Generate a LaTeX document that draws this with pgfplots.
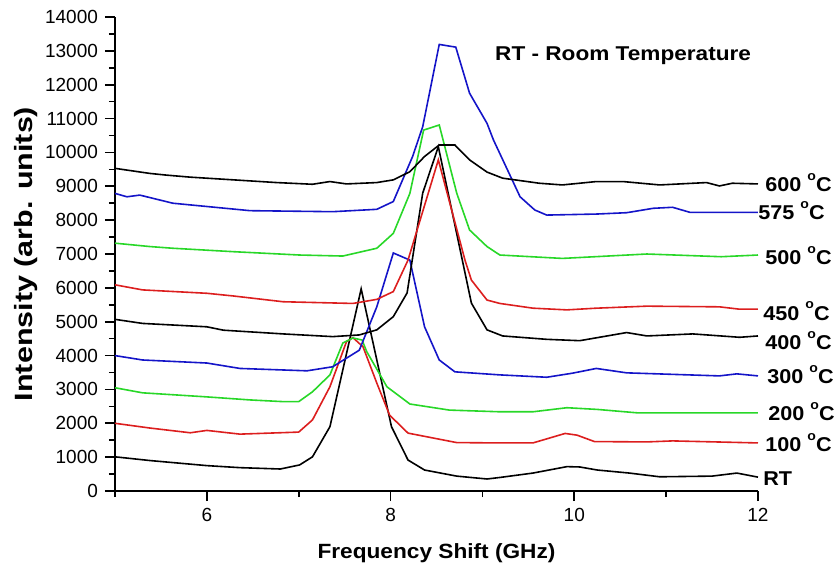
\documentclass[border=0pt]{standalone}
\usepackage{fontspec}
\setmainfont{Liberation Sans}
\usepackage{graphicx}
\usepackage{pgfplots}
\pgfplotsset{compat=1.18}
\definecolor{cred}{RGB}{220,30,30}
\definecolor{cgreen}{RGB}{40,215,40}
\definecolor{cblue}{RGB}{20,20,200}
\tikzset{lab/.style={font=\fontsize{10}{12}\selectfont\bfseries, anchor=base west, inner sep=0pt, yshift=-3.75pt}}
\newcommand{\wide}[2][1.1]{\scalebox{#1}[1]{#2}}
\newcommand{\dg}{\hspace{0.28em}\raisebox{1.05ex}{\fontsize{6.5}{6.5}\selectfont o}}
\begin{document}
\begin{tikzpicture}
\begin{axis}[
  at={(0,0)}, anchor=south west,
  scale only axis, width=321.5pt, height=237pt,
  xmin=5, xmax=12, ymin=0, ymax=14000,
  axis lines=left, axis line style={-, line width=0.8pt},
  xtick={6,8,10,12}, minor xtick={5,7,9,11},
  ytick={0,1000,...,14000}, minor ytick={500,1500,...,13500},
  tick align=outside, major tick length=5pt, minor tick length=3pt,
  tick style={line width=0.8pt, black},
  ticklabel style={font=\fontsize{9.5}{11}\selectfont},
  /pgf/number format/assume math mode=true,
  scaled y ticks=false,
  y tick label style={/pgf/number format/.cd, 1000 sep={}},
  xlabel={\wide[1.1]{Frequency Shift (GHz)}},
  ylabel={\wide[1.22]{Intensity (arb. units)}},
  xlabel style={font=\fontsize{10.3}{12}\selectfont\bfseries, at={(axis description cs:0.5,-0.131)}, anchor=center},
  ylabel style={font=\fontsize{12.5}{14}\selectfont\bfseries, at={(axis description cs:-0.138,0.5)}, anchor=center},
  clip=false,
  every axis plot/.append style={line width=0.8pt, mark=none},
]
% RT
\addplot[black] coordinates {(5.0,1010)(5.38,900)(6.0,750)(6.36,690)(6.8,650)(7.01,770)(7.15,1010)(7.34,1900)(7.68,5970)(8.01,1900)(8.19,915)(8.37,620)(8.72,440)(9.05,355)(9.19,400)(9.55,530)(9.92,720)(10.06,710)(10.25,620)(10.6,530)(10.93,420)(11.5,440)(11.77,530)(12,410)};
% 100 C
\addplot[cred] coordinates {(5.0,2000)(5.38,1860)(5.82,1720)(6.0,1790)(6.36,1680)(7.0,1740)(7.15,2100)(7.34,3080)(7.52,4410)(7.59,4530)(7.7,4260)(7.85,3190)(7.99,2240)(8.19,1710)(8.72,1430)(9.19,1420)(9.55,1420)(9.9,1700)(10.03,1650)(10.22,1460)(10.79,1450)(11.07,1480)(12,1420)};
% 200 C
\addplot[cgreen] coordinates {(5.0,3050)(5.3,2900)(6.0,2780)(6.47,2690)(6.83,2640)(7.0,2640)(7.15,2930)(7.34,3430)(7.48,4370)(7.59,4520)(7.69,4460)(7.74,4120)(7.96,3080)(8.21,2570)(8.64,2390)(9.19,2340)(9.55,2340)(9.92,2460)(10.25,2410)(10.68,2310)(12,2310)};
% 300 C
\addplot[cblue] coordinates {(5.0,4000)(5.3,3870)(6.0,3780)(6.36,3620)(7.09,3550)(7.37,3670)(7.66,4160)(7.85,5440)(8.03,7030)(8.21,6820)(8.37,4850)(8.53,3870)(8.7,3520)(9.19,3430)(9.7,3360)(9.98,3480)(10.24,3620)(10.57,3490)(11.58,3400)(11.77,3460)(12,3400)};
% 400 C
\addplot[black] coordinates {(5.0,5070)(5.3,4950)(6.0,4850)(6.18,4750)(6.83,4640)(7.37,4560)(7.66,4610)(7.85,4760)(8.03,5150)(8.18,5850)(8.35,8800)(8.52,10170)(8.88,5550)(9.05,4760)(9.22,4580)(9.7,4480)(10.06,4440)(10.57,4680)(10.79,4580)(11.29,4640)(11.8,4540)(12,4580)};
% 450 C
\addplot[cred] coordinates {(5.0,6090)(5.3,5940)(6.0,5840)(6.29,5760)(6.83,5590)(7.59,5540)(7.85,5660)(8.03,5890)(8.19,6820)(8.52,9780)(8.81,6820)(8.88,6230)(9.05,5640)(9.19,5540)(9.55,5400)(9.92,5350)(10.24,5400)(10.79,5460)(11.58,5440)(11.8,5370)(12,5370)};
% 500 C
\addplot[cgreen] coordinates {(5.0,7320)(5.38,7220)(5.63,7170)(6.28,7070)(7.01,6970)(7.48,6940)(7.85,7170)(8.03,7610)(8.21,8790)(8.36,10660)(8.53,10810)(8.72,8800)(8.86,7710)(9.05,7220)(9.19,6970)(9.87,6870)(10.79,7000)(11.6,6920)(12,6970)};
% 575 C
\addplot[cblue] coordinates {(5.0,8790)(5.13,8690)(5.27,8740)(5.63,8500)(6.47,8280)(7.37,8250)(7.85,8320)(8.03,8550)(8.24,9880)(8.35,10760)(8.53,13190)(8.71,13110)(8.86,11750)(9.05,10860)(9.12,10370)(9.41,8690)(9.57,8300)(9.7,8150)(10.24,8180)(10.57,8220)(10.86,8350)(11.07,8380)(11.26,8230)(12,8230)};
% 600 C
\addplot[black] coordinates {(5.0,9530)(5.38,9380)(5.56,9330)(5.82,9270)(6.29,9190)(6.76,9110)(7.15,9060)(7.34,9140)(7.52,9070)(7.85,9110)(8.03,9190)(8.21,9430)(8.37,9880)(8.53,10220)(8.7,10220)(8.86,9780)(9.05,9420)(9.22,9240)(9.62,9090)(9.87,9040)(10.24,9140)(10.53,9140)(10.93,9040)(11.44,9110)(11.58,9010)(11.72,9090)(12,9070)};
\node[lab, xshift=3.5pt] at (axis cs:12,9070) {\wide[1.08]{600\dg C}};
\node[lab, xshift=0pt] at (axis cs:12,8230) {\wide[1.08]{575\dg C}};
\node[lab, xshift=3.5pt] at (axis cs:12,6900) {\wide[1.08]{500\dg C}};
\node[lab, xshift=2.5pt] at (axis cs:12,5270) {\wide[1.08]{450\dg C}};
\node[lab, xshift=3.5pt] at (axis cs:12,4410) {\wide[1.08]{400\dg C}};
\node[lab, xshift=4.5pt] at (axis cs:12,3400) {\wide[1.08]{300\dg C}};
\node[lab, xshift=5pt] at (axis cs:12,2300) {\wide[1.08]{200\dg C}};
\node[lab, xshift=3.5pt] at (axis cs:12,1390) {\wide[1.08]{100\dg C}};
\node[lab, xshift=2.5pt] at (axis cs:12,375) {\wide[1.08]{RT}};
\node[lab] at (axis cs:9.135,12940) {\wide[1.13]{RT - Room Temperature}};
\end{axis}
\pgfresetboundingbox
\path (-57.5pt,-39.5pt) rectangle (360pt,245.5pt);
\end{tikzpicture}
\end{document}
